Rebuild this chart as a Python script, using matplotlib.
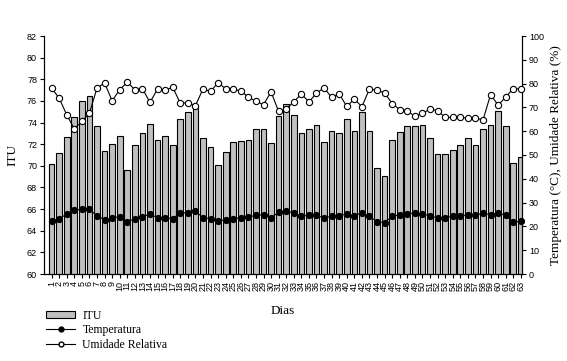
import matplotlib
matplotlib.use("Agg")
import matplotlib.pyplot as plt
from matplotlib.patches import Patch
from matplotlib.lines import Line2D
import numpy as np

dias = list(range(1, 64))
itu = [70.2, 71.2, 72.7, 74.5, 76.0, 76.5, 73.7, 71.4, 72.0, 72.8,
       69.6, 71.9, 73.0, 73.9, 72.4, 72.8, 71.9, 74.3, 75.0, 75.4,
       72.6, 71.7, 70.1, 71.3, 72.2, 72.3, 72.4, 73.4, 73.4, 72.1,
       74.6, 75.7, 74.7, 73.0, 73.4, 73.8, 72.2, 73.2, 73.0, 74.3,
       73.2, 75.0, 73.2, 69.8, 69.1, 72.4, 73.1, 73.7, 73.7, 73.8,
       72.6, 71.1, 71.1, 71.5, 71.9, 72.6, 71.9, 73.4, 73.8, 75.1,
       73.7, 70.3, 70.8]
temperatura = [22.3, 23.3, 25.1, 26.7, 27.2, 27.2, 24.4, 22.8, 23.7, 24.0,
               21.8, 23.3, 24.0, 25.1, 23.7, 23.7, 23.3, 25.6, 25.8, 26.4,
               23.7, 23.3, 22.2, 22.8, 23.3, 23.6, 23.9, 24.7, 24.9, 23.6,
               26.0, 26.5, 25.6, 24.3, 24.7, 24.7, 23.5, 24.3, 24.3, 25.3,
               24.4, 25.8, 24.2, 21.9, 21.6, 24.2, 24.9, 25.3, 25.6, 25.3,
               24.4, 23.5, 23.7, 24.2, 24.3, 25.0, 24.6, 25.6, 24.9, 25.8,
               24.6, 21.8, 22.1]
umidade = [78.1, 73.9, 66.9, 61.0, 64.1, 67.6, 78.1, 80.3, 72.8, 77.4,
           80.6, 77.5, 77.9, 72.1, 77.7, 77.2, 78.5, 71.8, 71.9, 70.7,
           77.7, 76.7, 80.4, 77.8, 77.7, 76.8, 74.4, 72.5, 71.2, 76.5,
           68.3, 69.4, 72.3, 75.7, 72.3, 76.0, 78.2, 74.2, 75.7, 70.4,
           73.5, 70.3, 77.8, 77.2, 76.1, 71.6, 69.1, 68.6, 66.2, 67.5,
           69.3, 68.6, 65.8, 65.8, 65.8, 65.5, 65.6, 64.7, 75.4, 70.9,
           74.4, 77.9, 77.7]

serif = "Liberation Serif"
sans = "Liberation Sans"

fig = plt.figure(figsize=(5.67, 3.61), dpi=100)
ax = fig.add_axes([44/567, 1-274/361, (522-44)/567, (274-36)/361])
ax.bar(dias, itu, width=0.75, color="#c0c0c0", edgecolor="black", linewidth=0.8, zorder=2)
ax.set_xlim(0, 63.15)
ax.set_ylim(60, 82)
ax.set_yticks(np.arange(60, 83, 2))
ax.set_xticks(dias)
ax.set_xticklabels([str(d) for d in dias], rotation=90, fontsize=6.5, family=sans)
for lab in ax.get_yticklabels():
    lab.set_family(sans)
    lab.set_fontsize(6.5)
ax.tick_params(axis="both", direction="out", length=3, width=0.8, pad=2)
ax.spines["top"].set_visible(False)
ax.set_ylabel("ITU", family=serif, fontsize=9.5, labelpad=6)
ax.set_xlabel("Dias", family=serif, fontsize=9.5, labelpad=10)

ax2 = ax.twinx()
ax2.set_ylim(0, 100)
ax2.set_yticks(np.arange(0, 101, 10))
for lab in ax2.get_yticklabels():
    lab.set_family(sans)
    lab.set_fontsize(6.5)
ax2.tick_params(axis="y", direction="out", length=3, width=0.8, pad=2)
ax2.spines["top"].set_visible(False)
ax2.plot(dias, temperatura, color="black", lw=0.8, marker="o", ms=4.2,
         mfc="black", mec="black", zorder=3, clip_on=False)
ax2.plot(dias, umidade, color="black", lw=0.8, marker="o", ms=4.5,
         mfc="white", mec="black", mew=0.8, zorder=3, clip_on=False)
ax2.set_ylabel("Temperatura (°C), Umidade Relativa (%)", family=serif, fontsize=9.5)
ax2.set_xlim(0, 63.15)

handles = [
    Patch(facecolor="#c0c0c0", edgecolor="black", linewidth=0.8),
    Line2D([], [], color="black", lw=0.8, marker="o", ms=3.5, mfc="black", mec="black"),
    Line2D([], [], color="black", lw=0.8, marker="o", ms=3.5, mfc="white", mec="black"),
]
fig.legend(handles, ["ITU", "Temperatura", "Umidade Relativa"],
           loc="upper left", bbox_to_anchor=(40/567, 1-304/361), frameon=False,
           prop={"family": serif, "size": 8.5}, handlelength=2.5, handleheight=0.55,
           labelspacing=0.2, handletextpad=0.6, borderpad=0)

fig.savefig("out.png", dpi=100)
